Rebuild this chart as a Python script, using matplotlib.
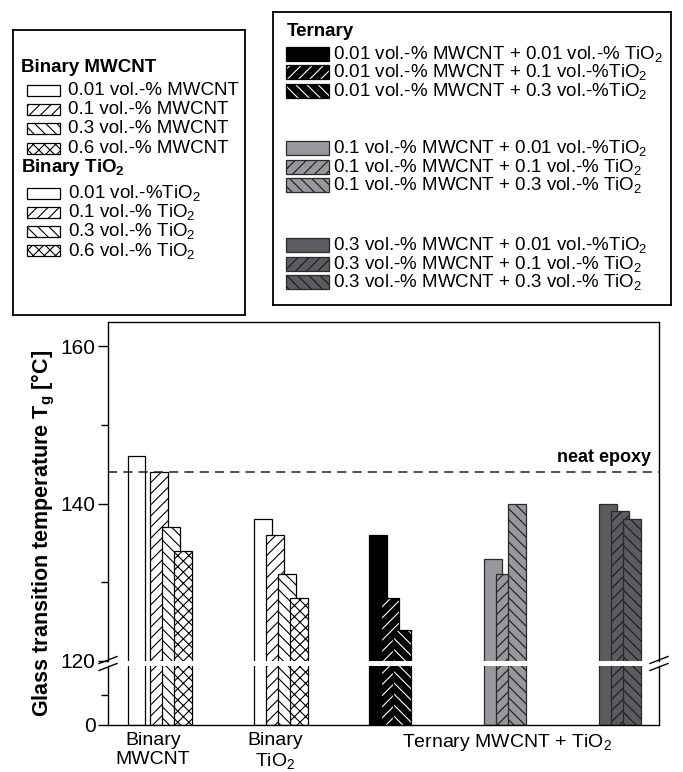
import matplotlib
matplotlib.use('Agg')
import matplotlib.pyplot as plt
from matplotlib.patches import Rectangle
from matplotlib.lines import Line2D

plt.rcParams['font.family'] = ['Liberation Sans', 'DejaVu Sans']
plt.rcParams['mathtext.fontset'] = 'custom'
plt.rcParams['mathtext.rm'] = 'Liberation Sans'
plt.rcParams['mathtext.it'] = 'Liberation Sans:italic'
plt.rcParams['mathtext.bf'] = 'Liberation Sans:bold'
plt.rcParams['hatch.linewidth'] = 0.8

# ---------------- data ----------------
neat_epoxy_tg = 144

binary_mwcnt_labels = ['0.01 vol.-% MWCNT', '0.1 vol.-% MWCNT',
                       '0.3 vol.-% MWCNT', '0.6 vol.-% MWCNT']
binary_mwcnt_tg = [146, 144, 137, 134]

binary_tio2_labels = ['0.01 vol.-%TiO$_2$', '0.1 vol.-% TiO$_2$',
                      '0.3 vol.-% TiO$_2$', '0.6 vol.-% TiO$_2$']
binary_tio2_tg = [138, 136, 131, 128]

ternary_001_labels = ['0.01 vol.-% MWCNT + 0.01 vol.-% TiO$_2$',
                      '0.01 vol.-% MWCNT + 0.1 vol.-%TiO$_2$',
                      '0.01 vol.-% MWCNT + 0.3 vol.-%TiO$_2$']
ternary_001_tg = [136, 128, 124]

ternary_01_labels = ['0.1 vol.-% MWCNT + 0.01 vol.-%TiO$_2$',
                     '0.1 vol.-% MWCNT + 0.1 vol.-% TiO$_2$',
                     '0.1 vol.-% MWCNT + 0.3 vol.-% TiO$_2$']
ternary_01_tg = [133, 131, 140]

ternary_03_labels = ['0.3 vol.-% MWCNT + 0.01 vol.-%TiO$_2$',
                     '0.3 vol.-% MWCNT + 0.1 vol.-% TiO$_2$',
                     '0.3 vol.-% MWCNT + 0.3 vol.-% TiO$_2$']
ternary_03_tg = [140, 139, 138]

group_labels = ['Binary\nMWCNT', 'Binary\nTiO$_2$', 'Ternary MWCNT + TiO$_2$']

# ---------------- styles ----------------
binary_hatches = ['', '///', '\\\\\\', 'xxx']
ternary_hatches = ['', '///', '\\\\\\']
black_c, light_c, dark_c = '#000000', '#98989c', '#5c5c60'

W, H = 683, 772
fig = plt.figure(figsize=(W / 100, H / 100), dpi=100)

ax_left, ax_right = 108, 659
up_top, up_bot = 322, 661
lo_top, lo_bot = 666, 725

def px_axes(x0, y0, x1, y1):
    return fig.add_axes([x0 / W, 1 - y1 / H, (x1 - x0) / W, (y1 - y0) / H])

ax_up = px_axes(ax_left, up_top, ax_right, up_bot)
ax_lo = px_axes(ax_left, lo_top, ax_right, lo_bot)

ax_up.set_ylim(120, 120 + (up_bot - up_top) / 7.875)
ax_lo.set_ylim(0, (lo_bot - lo_top) / 3.0)
for a in (ax_up, ax_lo):
    a.set_xlim(0, ax_right - ax_left)
    for s in a.spines.values():
        s.set_linewidth(1.0)
ax_up.spines['bottom'].set_visible(False)
ax_lo.spines['top'].set_visible(False)

# bar layout
bw = 18
step = 12
group_start = [20, 146, 261, 376, 491]

def draw_series(vals, fcs, hatches, hatch_c, edge_c, lefts, widths):
    for a in (ax_up, ax_lo):
        for v, fc, h, l, w in zip(vals, fcs, hatches, lefts, widths):
            a.bar(l, v, width=w, align='edge', color=fc, edgecolor=hatch_c,
                  linewidth=0, hatch=h)
            a.bar(l, v, width=w, align='edge', fill=False, edgecolor=edge_c,
                  linewidth=0.9)

mw_lefts = [group_start[0]] + [group_start[0] + 22 + step * i for i in range(3)]
draw_series(binary_mwcnt_tg, ['white'] * 4, binary_hatches, 'black', 'black',
            mw_lefts, [17, bw, bw, bw])
ti_lefts = [group_start[1] + step * i for i in range(4)]
draw_series(binary_tio2_tg, ['white'] * 4, binary_hatches, 'black', 'black',
            ti_lefts, [bw] * 4)
for g, vals, fc, hc, ec in [(2, ternary_001_tg, black_c, 'white', 'black'),
                            (3, ternary_01_tg, light_c, '#1a1a1a', '#2a2a2a'),
                            (4, ternary_03_tg, dark_c, '#1a1a1a', '#2a2a2a')]:
    lefts = [group_start[g] + step * i for i in range(3)]
    draw_series(vals, [fc] * 3, ternary_hatches, hc, ec, lefts, [bw] * 3)

# neat epoxy line
ax_up.axhline(neat_epoxy_tg, color='#222222', lw=1.1, ls=(0, (6, 4)))
ax_up.text(0.985, neat_epoxy_tg + 0.8, 'neat epoxy', transform=ax_up.get_yaxis_transform(),
           ha='right', va='bottom', fontsize=13, fontweight='bold')

# ticks
ax_up.set_yticks([120, 140, 160])
ax_up.set_yticks([130, 150], minor=True)
ax_lo.set_yticks([0])
ax_lo.set_yticks([10], minor=True)
for a in (ax_up, ax_lo):
    a.tick_params(axis='y', which='major', direction='out', length=7, width=1.0,
                  labelsize=15, pad=2)
    a.tick_params(axis='y', which='minor', direction='out', length=5, width=1.0)
    a.tick_params(axis='y', right=False)
ax_up.set_xticks([])
ax_lo.set_xticks([45, 167, 399])
ax_lo.set_xticklabels(group_labels, fontsize=14, linespacing=1.15)
ax_lo.tick_params(axis='x', length=0, pad=5)

fig.text(43 / W, 1 - 533 / H, r'Glass transition temperature T$_\mathbf{g}$ [°C]',
         rotation=90, ha='center', va='center', fontsize=15.5, fontweight='bold')

# break marks
gap_c = (up_bot + lo_top) / 2
for xc in (ax_left, ax_right):
    for dy in (-3.5, 3.5):
        y0 = gap_c + dy + 3.5
        y1 = gap_c + dy - 3.5
        fig.add_artist(Line2D([(xc - 9) / W, (xc + 9) / W], [1 - y0 / H, 1 - y1 / H],
                              color='black', lw=1.0))

# ---------------- legends ----------------
def legend_box(x0, y0, x1, y1):
    a = px_axes(x0, y0, x1, y1)
    a.set_xlim(x0, x1)
    a.set_ylim(y1, y0)
    a.set_xticks([]); a.set_yticks([])
    for s in a.spines.values():
        s.set_linewidth(1.3)
    return a

def swatch(a, x, yc, w, h, fc, hatch, hc, ec):
    a.add_patch(Rectangle((x, yc - h / 2), w, h, facecolor=fc, edgecolor=hc,
                          linewidth=0, hatch=hatch))
    a.add_patch(Rectangle((x, yc - h / 2), w, h, fill=False, edgecolor=ec, linewidth=0.9))

fs_leg = 13.5
lb = legend_box(13, 30, 245, 315)
lb.text(21, 67, 'Binary MWCNT', fontsize=fs_leg, fontweight='bold', va='center', ha='left')
for i, lab in enumerate(binary_mwcnt_labels):
    y = 90.5 + 19.2 * i
    swatch(lb, 27, y, 33, 11, 'white', binary_hatches[i], 'black', 'black')
    lb.text(68, y, lab, fontsize=fs_leg, va='center', ha='left')
lb.text(21, 168, r'Binary TiO$_\mathbf{2}$', fontsize=fs_leg, fontweight='bold',
        va='center', ha='left')
for i, lab in enumerate(binary_tio2_labels):
    y = 193 + 19.2 * i
    swatch(lb, 27, y, 33, 11, 'white', binary_hatches[i], 'black', 'black')
    lb.text(68, y, lab, fontsize=fs_leg, va='center', ha='left')

rb = legend_box(273, 12, 671, 305)
rb.text(287, 32, 'Ternary', fontsize=fs_leg, fontweight='bold', va='center', ha='left')
for y0, labs, fc, hc, ec in [(53.5, ternary_001_labels, black_c, 'white', 'black'),
                             (148, ternary_01_labels, light_c, '#1a1a1a', '#2a2a2a'),
                             (245, ternary_03_labels, dark_c, '#1a1a1a', '#2a2a2a')]:
    for i, lab in enumerate(labs):
        y = y0 + 18.7 * i
        swatch(rb, 286, y, 43, 14, fc, ternary_hatches[i], hc, ec)
        rb.text(333, y, lab, fontsize=fs_leg, va='center', ha='left')

fig.savefig('out.png', dpi=100)
